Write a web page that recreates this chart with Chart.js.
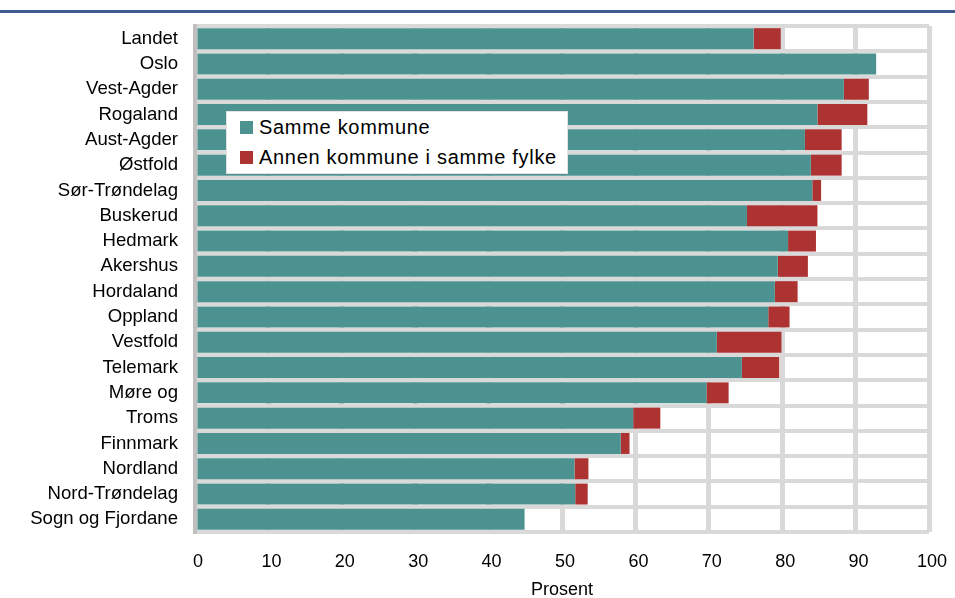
<!DOCTYPE html>
<html>
<head>
<meta charset="utf-8">
<script src="https://cdn.jsdelivr.net/npm/chart.js@4.4.1/dist/chart.umd.min.js"></script>
<style>
  body { margin: 0; background: #fff; font-family: "Liberation Sans", Arial, sans-serif; }
  #wrap { position: relative; width: 955px; height: 598px; overflow: hidden; }
  #topline { position: absolute; left: 0; top: 10px; width: 955px; height: 3px; background: #3f5b8f; }
  #chart { position: absolute; left: 0; top: 0; }
  #legend {
    position: absolute; left: 226px; top: 111px; width: 340px; height: 61px;
    background: #fff; border: 1px solid #e2e2e2; font-size: 20px; letter-spacing: 0.7px; color: #000;
  }
  .li { position: absolute; left: 13px; height: 22px; line-height: 22px; white-space: nowrap; }
  .li span { display: inline-block; width: 13px; height: 13px; margin-right: 6px; vertical-align: 0px; }
</style>
</head>
<body>
<div id="wrap">
  <canvas id="chart" width="955" height="598"></canvas>
  <div id="topline"></div>
  <div id="legend">
    <div class="li" style="top:4px"><span style="background:#4c9290"></span>Samme kommune</div>
    <div class="li" style="top:34px"><span style="background:#ad3333"></span>Annen kommune i samme fylke</div>
  </div>
</div>
<script>
// fylker, sortert som i figuren
const fylker = ['Landet', 'Oslo', 'Vest-Agder', 'Rogaland', 'Aust-Agder', 'Østfold',
  'Sør-Trøndelag', 'Buskerud', 'Hedmark', 'Akershus', 'Hordaland', 'Oppland',
  'Vestfold', 'Telemark', 'Møre og', 'Troms', 'Finnmark', 'Nordland',
  'Nord-Trøndelag', 'Sogn og Fjordane'];

// prosent
const sammeKommune = [76.1, 92.8, 88.4, 84.8, 83.1, 83.9, 84.1, 75.2, 80.8, 79.4,
  79.0, 78.1, 71.1, 74.5, 69.7, 59.7, 58.0, 51.7, 51.8, 44.9];
const annenKommune = [3.7, 0, 3.4, 6.8, 5.0, 4.2, 1.2, 9.6, 3.8, 4.1,
  3.1, 2.9, 8.8, 5.1, 3.0, 3.7, 1.2, 1.9, 1.7, 0];

const xTicks = [0, 10, 20, 30, 40, 50, 60, 70, 80, 90, 100];

const GRID = '#d9d9d9';
const FONT = { family: '"Liberation Sans", Arial, sans-serif', size: 18 };

new Chart(document.getElementById('chart'), {
  type: 'bar',
  data: {
    labels: fylker,
    datasets: [
      { label: 'Samme kommune', data: sammeKommune, backgroundColor: '#4c9290' },
      { label: 'Annen kommune i samme fylke', data: annenKommune, backgroundColor: '#ad3333' }
    ]
  },
  options: {
    indexAxis: 'y',
    responsive: false,
    animation: false,
    barPercentage: 0.83,
    categoryPercentage: 1,
    layout: { padding: { top: 26, right: 26, left: 0, bottom: 0 } },
    plugins: { legend: { display: false }, tooltip: { enabled: false } },
    scales: {
      x: {
        stacked: true, min: 0, max: 100,
        afterBuildTicks: s => { s.ticks = xTicks.map(v => ({ value: v })); },
        afterFit: s => { s.height = 66; s.paddingLeft = 0; s.paddingRight = 0; },
        grid: { color: GRID, lineWidth: 5, drawTicks: false },
        border: { display: false },
        ticks: { color: '#000', font: FONT, padding: 19, labelOffset: 3 },
        title: { display: true, text: 'Prosent', color: '#000', font: FONT, padding: { top: 0, bottom: -3 } }
      },
      y: {
        stacked: true,
        afterFit: s => { s.width = 195; s.paddingTop = 0; s.paddingBottom = 0; },
        grid: { color: GRID, lineWidth: 4, drawTicks: false },
        border: { display: true, color: '#bfbfbf', width: 4 },
        ticks: { color: '#000', font: { family: FONT.family, size: 18.6 }, padding: 17, autoSkip: false }
      }
    }
  }
});
</script>
</body>
</html>
